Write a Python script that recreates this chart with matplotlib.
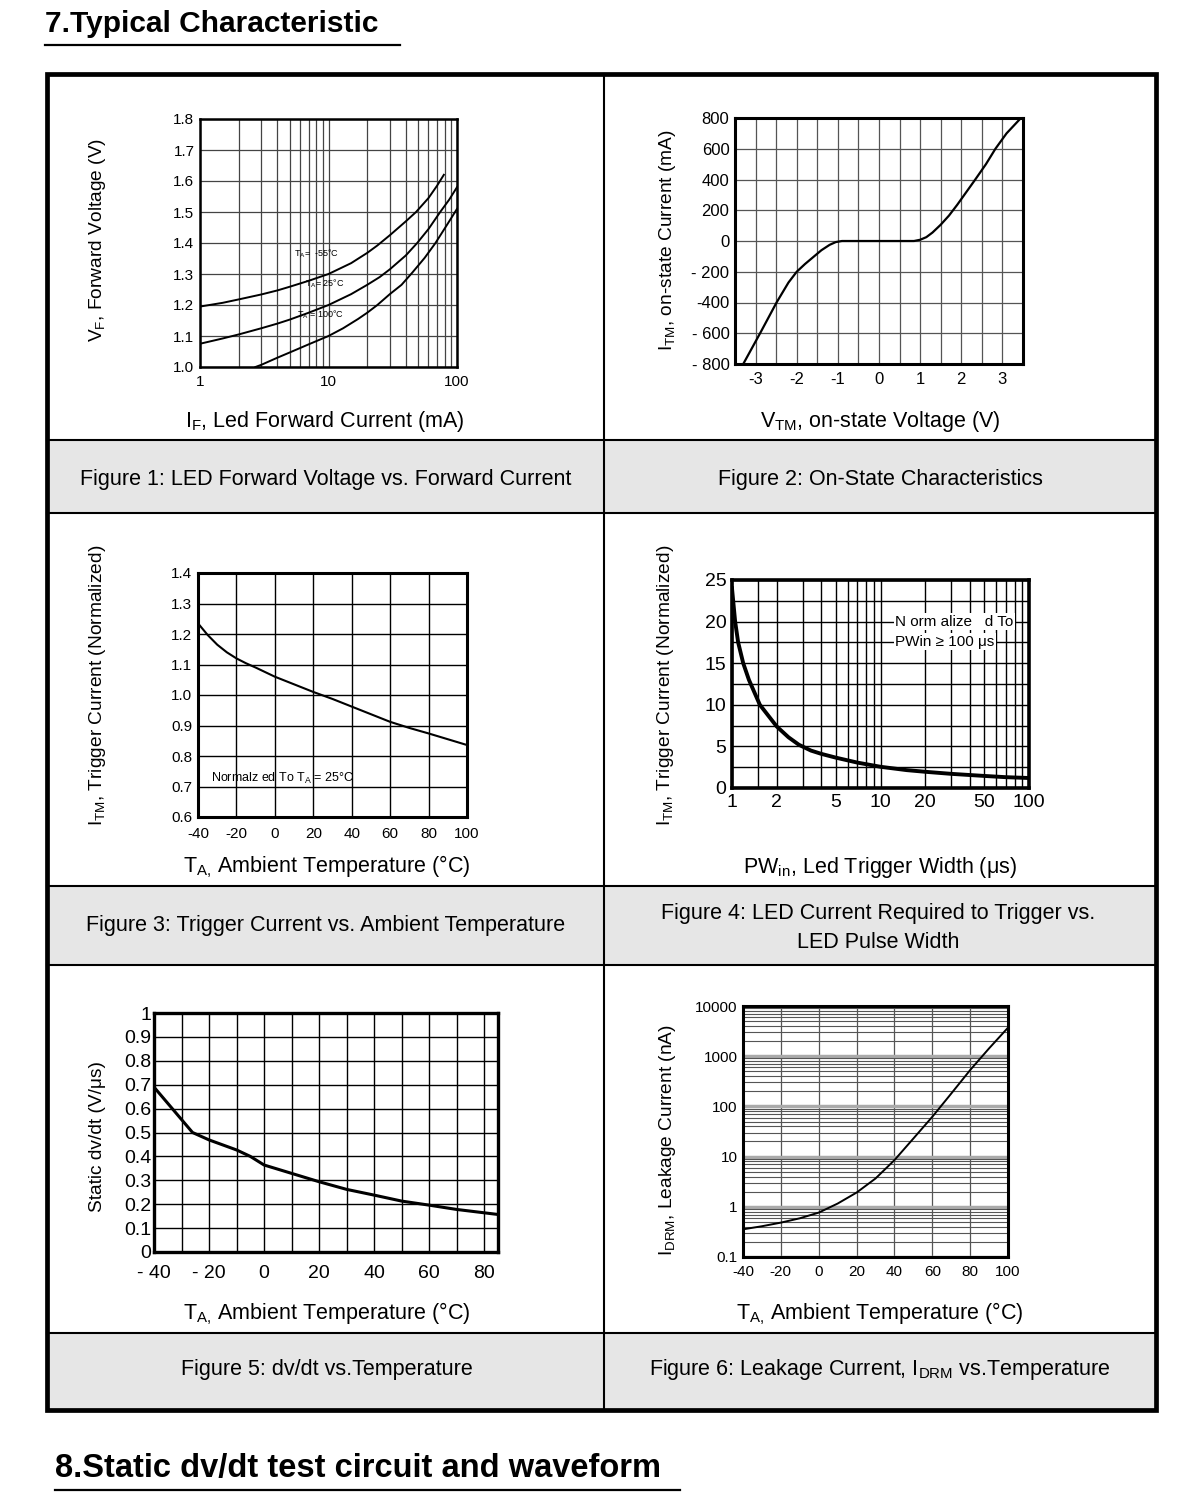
import matplotlib
matplotlib.use('Agg')
import matplotlib.pyplot as plt
from matplotlib.patches import Rectangle
from matplotlib.ticker import FixedLocator, NullFormatter

plt.rcParams['font.family'] = ['Liberation Sans', 'DejaVu Sans']
plt.rcParams['mathtext.default'] = 'regular'
plt.rcParams['axes.unicode_minus'] = False

#%% data
# Figure 1: forward voltage vs forward current (mA), three temperatures
vf_m55_x = [1, 1.5, 2, 3, 4, 5, 7, 10, 15, 20, 24, 30, 40, 48, 60, 70, 79]
vf_m55_y = [1.195, 1.207, 1.218, 1.234, 1.247, 1.259, 1.278, 1.30, 1.335, 1.368, 1.392,
            1.425, 1.47, 1.50, 1.545, 1.585, 1.62]
vf_25_x = [1, 1.5, 2, 3, 4, 5, 7, 10, 15, 20, 25, 30, 40, 49, 60, 74, 87, 100]
vf_25_y = [1.075, 1.092, 1.105, 1.125, 1.14, 1.153, 1.175, 1.20, 1.235, 1.265, 1.29,
           1.315, 1.36, 1.40, 1.445, 1.50, 1.54, 1.58]
vf_100_x = [2.7, 3, 4, 5, 7, 10, 13, 17, 20, 24, 30, 37, 45, 56, 68, 84, 100]
vf_100_y = [1.0, 1.007, 1.03, 1.047, 1.073, 1.10, 1.125, 1.155, 1.175, 1.20, 1.235,
            1.265, 1.305, 1.352, 1.40, 1.46, 1.51]

# Figure 2: on-state characteristic
vtm = [-3.3, -2.89, -2.49, -2.2, -2.0, -1.8, -1.6, -1.4, -1.2, -1.05, -0.9,
       0.85, 1.0, 1.15, 1.3, 1.5, 1.7, 1.9, 2.1, 2.34, 2.6, 2.83, 3.1, 3.45]
itm = [-800, -600, -400, -270, -200, -150, -105, -60, -25, -7, 0,
       0, 8, 25, 55, 106, 165, 235, 310, 400, 500, 600, 700, 800]

# Figure 3: trigger current vs ambient temperature
ta3 = [-40, -35, -30, -25, -20, -15, -10, 0, 10, 20, 30, 40, 50, 60, 70, 80, 90, 100]
igt3 = [1.235, 1.197, 1.165, 1.14, 1.12, 1.104, 1.09, 1.06, 1.035, 1.01, 0.987, 0.962,
        0.937, 0.912, 0.892, 0.874, 0.855, 0.836]

# Figure 4: trigger current vs LED pulse width (us)
pw = [1.0, 1.05, 1.1, 1.19, 1.3, 1.54, 2.0, 2.4, 2.82, 3.4, 4, 5, 7, 10, 15, 20, 30, 50, 70, 100]
igt4 = [24, 20, 17.5, 15, 13, 10, 7.4, 6.1, 5.2, 4.5, 4.1, 3.65, 3.05, 2.55, 2.15, 1.95,
        1.7, 1.45, 1.3, 1.2]

# Figure 5: static dv/dt vs temperature
ta5 = [-40, -26, -20, -10, -5, 0, 10, 20, 30, 40, 50, 60, 70, 80, 85]
dvdt = [0.69, 0.50, 0.469, 0.427, 0.40, 0.364, 0.329, 0.294, 0.262, 0.238, 0.213, 0.196,
        0.178, 0.164, 0.157]

# Figure 6: leakage current (nA) vs temperature
ta6 = [-40, -30, -20, -10, 0, 10, 20, 30, 40, 50, 60, 70, 80, 90, 100]
idrm = [0.356, 0.41, 0.484, 0.59, 0.766, 1.16, 1.92, 3.66, 8.5, 22.9, 62, 180, 529, 1432, 3700]

#%% page layout
W, H = 1200, 1512
fig = plt.figure(figsize=(W / 100, H / 100), dpi=100)

bg = fig.add_axes([0, 0, 1, 1])
bg.set_xlim(0, W)
bg.set_ylim(H, 0)
bg.axis('off')

# grey caption rows and table rules
for y0, y1 in [(440, 513), (886, 965), (1333, 1410)]:
    bg.add_patch(Rectangle((47, y0), 1109, y1 - y0, color='#e6e6e6', lw=0))
    bg.plot([47, 1156], [y0, y0], color='black', lw=1.5)
    bg.plot([47, 1156], [y1, y1], color='black', lw=1.5)
bg.plot([604, 604], [74, 1410], color='black', lw=1.5)
bg.add_patch(Rectangle((47, 74), 1109, 1336, fill=False, ec='black', lw=3.4))

# section headings
bg.text(45, 32, '7.Typical Characteristic', fontsize=21.5, fontweight='bold', va='baseline')
bg.plot([45, 400], [45, 45], color='black', lw=1.6)
bg.text(55, 1477, '8.Static dv/dt test circuit and waveform', fontsize=23.5, fontweight='bold',
        va='baseline')
bg.plot([55, 680], [1490, 1490], color='black', lw=1.6)

lab = 15.5   # horizontal titles and captions
vlab = 13.8  # rotated axis titles
temp_label = r'T$_{A,}\,$Ambient Temperature (°C)'
bg.text(98, 240, r'V$_{F}$, Forward Voltage (V)', rotation=90, ha='center', va='center', fontsize=vlab)
bg.text(325, 422, r'I$_{F}$, Led Forward Current (mA)', ha='center', va='center', fontsize=lab)
bg.text(668, 240, r'I$_{TM}$, on-state Current (mA)', rotation=90, ha='center', va='center', fontsize=vlab)
bg.text(880, 421, r'V$_{TM}$, on-state Voltage (V)', ha='center', va='center', fontsize=lab)
bg.text(98, 685, r'I$_{TM}$, Trigger Current (Normalized)', rotation=90, ha='center', va='center',
        fontsize=vlab)
bg.text(327, 867, temp_label, ha='center', va='center', fontsize=lab)
bg.text(665, 685, r'I$_{TM}$, Trigger Current (Normalized)', rotation=90, ha='center', va='center',
        fontsize=vlab)
bg.text(880, 867, r'PW$_{in}$, Led Trigger Width (μs)', ha='center', va='center', fontsize=lab)
bg.text(98, 1137, 'Static dv/dt (V/μs)', rotation=90, ha='center', va='center', fontsize=vlab)
bg.text(327, 1314, temp_label, ha='center', va='center', fontsize=lab)
bg.text(668, 1140, r'I$_{DRM}$, Leakage Current (nA)', rotation=90, ha='center', va='center', fontsize=vlab)
bg.text(880, 1314, temp_label, ha='center', va='center', fontsize=lab)

# captions
bg.text(326, 479, 'Figure 1: LED Forward Voltage vs. Forward Current', ha='center', va='center', fontsize=lab)
bg.text(880, 479, 'Figure 2: On-State Characteristics', ha='center', va='center', fontsize=lab)
bg.text(326, 925, 'Figure 3: Trigger Current vs. Ambient Temperature', ha='center', va='center', fontsize=lab)
bg.text(878, 928, 'Figure 4: LED Current Required to Trigger vs.\nLED Pulse Width', ha='center',
        va='center', fontsize=lab, linespacing=1.45)
bg.text(327, 1370, 'Figure 5: dv/dt vs.Temperature', ha='center', va='center', fontsize=lab)
bg.text(880, 1370, r'Figure 6: Leakage Current, I$_{DRM}$ vs.Temperature', ha='center', va='center',
        fontsize=lab)


def px_axes(x0, y0, x1, y1, frame):
    ax = fig.add_axes([x0 / W, 1 - y1 / H, (x1 - x0) / W, (y1 - y0) / H])
    for s in ax.spines.values():
        s.set_linewidth(frame)
        s.set_color('black')
    ax.tick_params(which='both', length=0, pad=4)
    ax.set_axisbelow(True)
    return ax


#%% Figure 1
ax1 = px_axes(200, 119, 457, 367, 1.8)
ax1.set_xscale('log')
ax1.plot(vf_m55_x, vf_m55_y, color='black', lw=1.4)
ax1.plot(vf_25_x, vf_25_y, color='black', lw=1.4)
ax1.plot(vf_100_x, vf_100_y, color='black', lw=1.4)
ax1.set_xlim(1, 100)
ax1.set_ylim(1.0, 1.8)
ax1.xaxis.set_major_locator(FixedLocator([1, 10, 100]))
ax1.xaxis.set_minor_locator(FixedLocator([2, 3, 4, 5, 6, 7, 8, 9, 20, 30, 40, 50, 60, 70, 80, 90]))
ax1.xaxis.set_minor_formatter(NullFormatter())
ax1.set_xticklabels(['1', '10', '100'])
ax1.set_yticks([1.0, 1.1, 1.2, 1.3, 1.4, 1.5, 1.6, 1.7, 1.8])
ax1.set_yticklabels(['1.0', '1.1', '1.2', '1.3', '1.4', '1.5', '1.6', '1.7', '1.8'])
ax1.tick_params(labelsize=11)
ax1.tick_params(axis='x', pad=6)
ax1.grid(True, which='both', color='#444444', lw=0.9)
ax1.text(8.1, 1.366, r'T$_{A}$=  -55°C', fontsize=6.5, ha='center', va='center')
ax1.text(9.3, 1.27, r'T$_{A}$= 25°C', fontsize=6.5, ha='center', va='center')
ax1.text(8.6, 1.17, r'T$_{A}$ = 100°C', fontsize=6.5, ha='center', va='center')

#%% Figure 2
ax2 = px_axes(735, 118, 1023, 364, 2.2)
ax2.plot(vtm, itm, color='black', lw=1.6)
ax2.set_xlim(-3.5, 3.5)
ax2.set_ylim(-800, 800)
ax2.set_xticks([-3, -2, -1, 0, 1, 2, 3])
ax2.set_xticks([-3.5, -2.5, -1.5, -0.5, 0.5, 1.5, 2.5, 3.5], minor=True)
ax2.set_yticks([-800, -600, -400, -200, 0, 200, 400, 600, 800])
ax2.set_yticklabels(['- 800', '- 600', '-400', '- 200', '0', '200', '400', '600', '800'])
ax2.tick_params(labelsize=12)
ax2.tick_params(axis='x', pad=6)
ax2.grid(True, which='both', color='#555555', lw=0.9)

#%% Figure 3
ax3 = px_axes(198, 573, 467, 817, 2.2)
ax3.plot(ta3, igt3, color='black', lw=1.5)
ax3.set_xlim(-40, 100)
ax3.set_ylim(0.6, 1.4)
ax3.set_xticks([-40, -20, 0, 20, 40, 60, 80, 100])
ax3.set_yticks([0.6, 0.7, 0.8, 0.9, 1.0, 1.1, 1.2, 1.3, 1.4])
ax3.set_yticklabels(['0.6', '0.7', '0.8', '0.9', '1.0', '1.1', '1.2', '1.3', '1.4'])
ax3.tick_params(labelsize=11)
ax3.tick_params(axis='x', pad=7)
ax3.grid(True, color='black', lw=1.0)
ax3.text(-33, 0.726, r'Normalz ed To T$_{A}$ = 25°C', fontsize=9, va='center')

#%% Figure 4
ax4 = px_axes(732, 580, 1029, 788, 2.6)
ax4.set_xscale('log')
ax4.plot(pw, igt4, color='black', lw=2.8)
ax4.set_xlim(1, 100)
ax4.set_ylim(0, 25)
ax4.xaxis.set_major_locator(FixedLocator([1, 2, 5, 10, 20, 50, 100]))
ax4.xaxis.set_minor_locator(FixedLocator([1.5, 3, 4, 6, 7, 8, 9, 30, 40, 60, 70, 80, 90]))
ax4.xaxis.set_minor_formatter(NullFormatter())
ax4.set_xticklabels(['1', '2', '5', '10', '20', '50', '100'])
ax4.set_yticks([0, 5, 10, 15, 20, 25])
ax4.set_yticks([2.5, 7.5, 12.5, 17.5, 22.5], minor=True)
ax4.tick_params(labelsize=14)
ax4.grid(True, which='both', color='black', lw=1.0)
ax4.text(12.5, 20, 'N orm alize   d To', fontsize=11, va='center',
         bbox=dict(fc='white', ec='none', pad=1))
ax4.text(12.5, 17.6, 'PWin ≥ 100 μs', fontsize=11, va='center',
         bbox=dict(fc='white', ec='none', pad=1))

#%% Figure 5
ax5 = px_axes(154, 1013, 498, 1252, 2.4)
ax5.plot(ta5, dvdt, color='black', lw=2.2)
ax5.set_xlim(-40, 85)
ax5.set_ylim(0, 1)
ax5.set_xticks([-40, -20, 0, 20, 40, 60, 80])
ax5.set_xticklabels(['- 40', '- 20', '0', '20', '40', '60', '80'])
ax5.set_xticks([-30, -10, 10, 30, 50, 70], minor=True)
ax5.set_yticks([0, 0.1, 0.2, 0.3, 0.4, 0.5, 0.6, 0.7, 0.8, 0.9, 1.0])
ax5.set_yticklabels(['0', '0.1', '0.2', '0.3', '0.4', '0.5', '0.6', '0.7', '0.8', '0.9', '1'])
ax5.tick_params(labelsize=14)
ax5.tick_params(axis='y', pad=2)
ax5.tick_params(axis='x', pad=9)
ax5.grid(True, which='both', color='black', lw=1.0)

#%% Figure 6
ax6 = px_axes(743, 1006, 1008, 1257, 2.2)
ax6.set_yscale('log')
ax6.plot(ta6, idrm, color='black', lw=1.4)
ax6.set_xlim(-40, 100)
ax6.set_ylim(0.1, 10000)
ax6.set_xticks([-40, -20, 0, 20, 40, 60, 80, 100])
ax6.yaxis.set_major_locator(FixedLocator([0.1, 1, 10, 100, 1000, 10000]))
ax6.set_yticklabels(['0.1', '1', '10', '100', '1000', '10000'])
ax6.yaxis.set_minor_locator(FixedLocator([m * 10.0 ** e for e in range(-1, 4) for m in range(2, 10)]))
ax6.yaxis.set_minor_formatter(NullFormatter())
ax6.tick_params(labelsize=11)
ax6.tick_params(axis='x', pad=6)
ax6.grid(True, which='major', axis='y', color='#aaaaaa', lw=2.5)
ax6.grid(True, which='minor', axis='y', color='#555555', lw=0.8)
ax6.grid(True, which='major', axis='x', color='#555555', lw=0.9)

fig.savefig('out.png', dpi=100, facecolor='white')
